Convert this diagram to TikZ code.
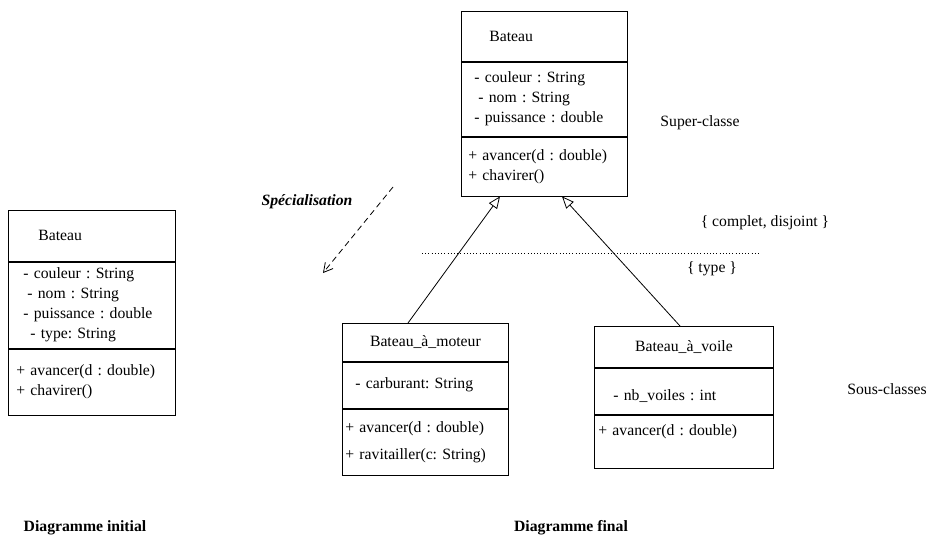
\documentclass[tikz,border=0pt]{standalone}
\usepackage{fontspec}
\setmainfont{Liberation Serif}
\usetikzlibrary{shapes,arrows.meta,positioning}
\tikzstyle{part} = [rectangle, draw, align=left, inner ysep=0pt]
\tikzstyle{inherit} = [draw, -{Triangle[open, length=12pt, width=10pt]}]
\tikzstyle{spec} = [draw, dashed, dash pattern=on 6pt off 4pt, -{Straight Barb[length=9pt, width=10pt]}]
\tikzstyle{sep} = [draw, dash pattern=on 1pt off 2.2pt]
\tikzstyle{note} = [inner sep=0pt]

\begin{document}
\begin{tikzpicture}[x=1pt,y=-1pt,line width=0.8pt,font=\fontsize{15.7}{20}\selectfont\frenchspacing]
  \useasboundingbox (0,0) rectangle (928,538);

  % diagramme initial
  \node [part, anchor=north west, minimum height=51pt, inner xsep=30pt, text width=107pt] (iniNom) at (8,210) {Bateau};
  \node [part, below=0pt of iniNom, minimum height=86pt, inner xsep=15pt, text width=137pt] (iniAttr)
    {- couleur : String\\\hspace*{4pt}- nom : String\\- puissance : double\\\hspace*{7pt}- type: String};
  \node [part, below=0pt of iniAttr, minimum height=66pt, inner xsep=8pt, text width=151pt] (iniMeth)
    {+ avancer(d : double)\\+ chavirer()};

  % super-classe
  \node [part, anchor=north west, minimum height=50pt, inner xsep=28pt, text width=110pt] (supNom) at (461,11) {Bateau};
  \node [part, below=0pt of supNom, minimum height=74pt, inner xsep=13pt, text width=140pt] (supAttr)
    {- couleur : String\\\hspace*{4pt}- nom : String\\- puissance : double};
  \node [part, below=0pt of supAttr, minimum height=59pt, inner xsep=7pt, text width=152pt] (supMeth)
    {+ avancer(d : double)\\+ chavirer()};

  % sous-classes
  \node [part, align=center, anchor=north west, minimum height=38pt, inner xsep=4pt, text width=158pt] (motNom) at (342,323) {Bateau\_à\_moteur};
  \node [part, below=0pt of motNom, minimum height=46pt, inner xsep=13pt, text width=140pt] (motAttr)
    {- carburant: String};
  \node [part, below=0pt of motAttr, minimum height=66pt, inner xsep=3pt, text width=160pt] (motMeth)
    {+ avancer(d : double)\\[7pt]+ ravitailler(c: String)};

  \node [part, align=center, anchor=north west, minimum height=41pt, inner xsep=4pt, text width=171pt] (voiNom) at (594,326) {Bateau\_à\_voile};
  \node [part, below=0pt of voiNom, minimum height=46pt, inner xsep=19pt, text width=141pt, text height=20pt] (voiAttr)
    {- nb\_voiles : int};
  \node [part, below=0pt of voiAttr, minimum height=53pt, inner xsep=4pt, text width=171pt, text depth=22pt] (voiMeth)
    {+ avancer(d : double)};

  \path [inherit] ([xshift=66pt]motNom.north west) -- ([xshift=39pt]supMeth.south west);
  \path [inherit] ([xshift=86pt]voiNom.north west) -- ([xshift=101pt]supMeth.south west);

  % specialisation
  \coordinate (specA) at (393,187);
  \coordinate (specB) at (323,273);
  \path [spec] (specA) -- (specB);
  \node [note] (spec) at (307,202) {\textbf{\textit{Spécialisation}}};

  \coordinate (sepA) at (422,253);
  \coordinate (sepB) at (760,253);
  \path [sep] (sepA) -- (sepB);

  \node [note] (supLbl) at (700,123) {Super-classe};
  \node [note] (contr) at (765,223) {\{ complet, disjoint \}};
  \node [note] (discr) at (712,269) {\{ type \}};
  \node [note] (sousLbl) at (887,389) {Sous-classes};
  \node [note] (iniLbl) at (85,528) {\textbf{Diagramme initial}};
  \node [note] (finLbl) at (571,528) {\textbf{Diagramme final}};
\end{tikzpicture}
\end{document}
